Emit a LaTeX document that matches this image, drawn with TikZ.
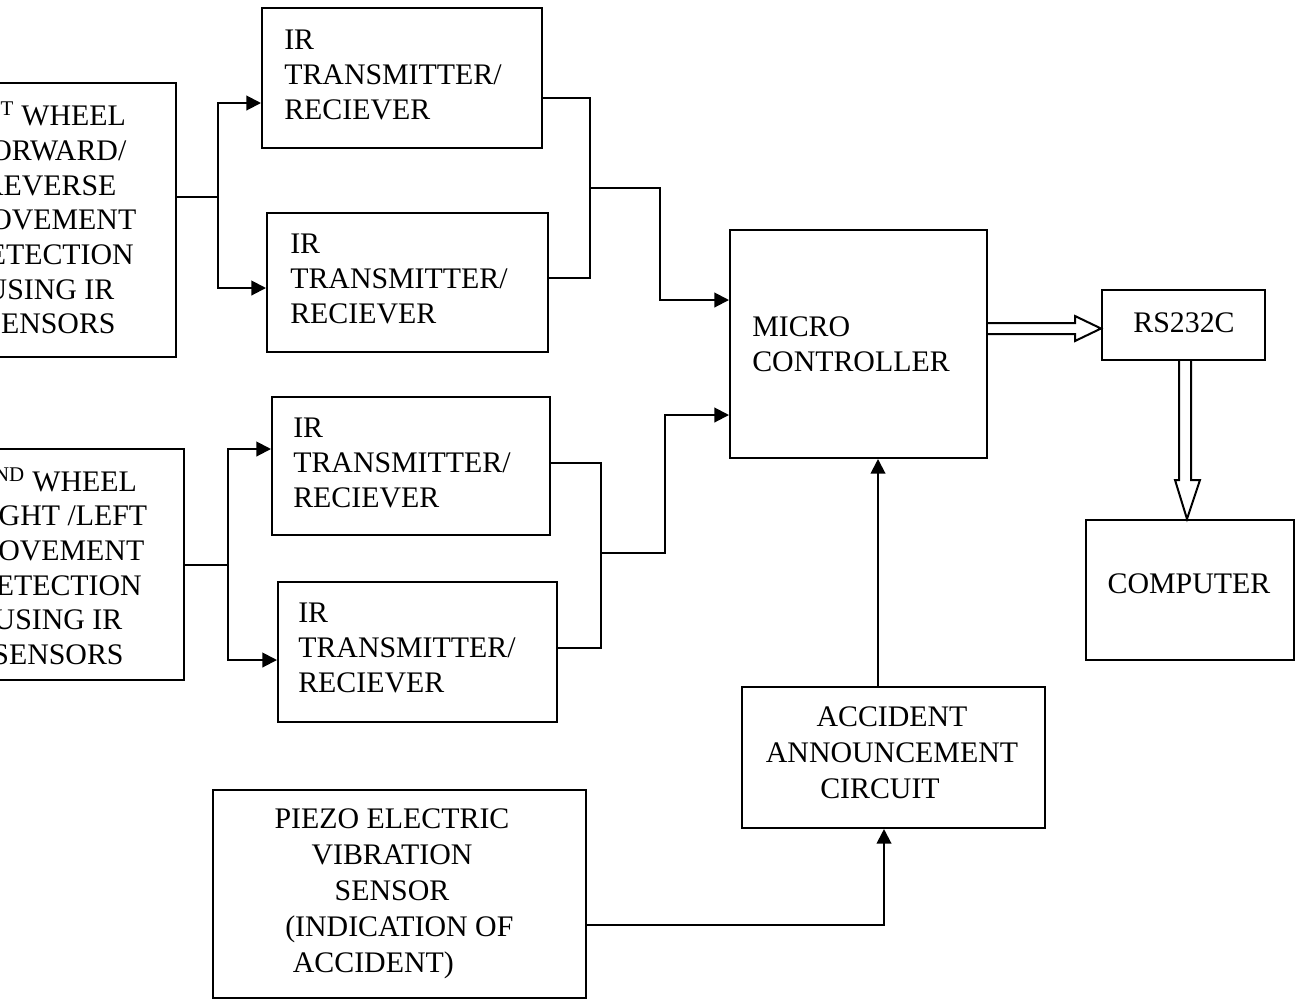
\documentclass[tikz,border=0pt]{standalone}
\usepackage{fontspec}
\setmainfont{Liberation Serif}
\usetikzlibrary{arrows.meta,fit,calc}
\begin{document}
\begin{tikzpicture}[x=0.75pt,y=-0.75pt,
  box/.style={draw, line width=1.5pt, inner sep=0pt},
  lbl/.style={inner sep=0pt, font=\fontsize{22.4}{26}\selectfont},
  lblw/.style={inner sep=0pt, font=\fontsize{22.4}{27}\selectfont},
  wire/.style={line width=1.5pt},
  arr/.style={wire, -{Triangle[length=11pt,width=11pt]}},
  hollow/.style={line width=1.5pt, line join=miter}]
\useasboundingbox (0,0) rectangle (1305,1001);
\clip (0,0) rectangle (1305,1001);

% left sensor boxes (cut by the picture's left edge, as in the reference)
\node[box, fit={(-76,83) (176,357)}] (w1) {};
\node[lbl, align=center] (w1t) at (50,218) {1\textsuperscript{ST} WHEEL\\FORWARD/\\REVERSE\hspace*{4pt}\\MOVEMENT\\DETECTION\\USING IR\\SENSORS};
\node[box, fit={(-68,449) (184,680)}] (w2) {};
\node[lbl, align=center] (w2t) at (58,566) {2\textsuperscript{ND} WHEEL\\RIGHT /LEFT\\MOVEMENT\\DETECTION\\USING IR\\SENSORS};

% IR boxes
\node[box, fit={(262,8) (542,148)}] (ir1) {};
\node[lbl, align=left, anchor=west] (ir1t) at (284,75) {IR\\TRANSMITTER/\\RECIEVER};
\node[box, fit={(267,213) (548,352)}] (ir2) {};
\node[lbl, align=left, anchor=west] (ir2t) at (290,279) {IR\\TRANSMITTER/\\RECIEVER};
\node[box, fit={(272,397) (550,535)}] (ir3) {};
\node[lbl, align=left, anchor=west] (ir3t) at (293,463) {IR\\TRANSMITTER/\\RECIEVER};
\node[box, fit={(278,582) (557,722)}] (ir4) {};
\node[lbl, align=left, anchor=west] (ir4t) at (298,648) {IR\\TRANSMITTER/\\RECIEVER};

% micro controller
\node[box, fit={(730,230) (987,458)}] (mc) {};
\node[lbl, align=left, anchor=west] (mct) at (752,344) {MICRO\\CONTROLLER};

% RS232C and computer
\node[box, fit={(1102,290) (1265,360)}] (rs) {};
\node[lbl] (rst) at (1184,323) {RS232C};
\node[box, fit={(1086,520) (1294,660)}] (comp) {};
\node[lbl] (compt) at (1189,584) {COMPUTER};

% accident announcement
\node[box, fit={(742,687) (1045,828)}] (acc) {};
\node[lblw, align=center] (acct) at (892,753) {ACCIDENT\\ANNOUNCEMENT\\CIRCUIT\hspace*{18pt}};

% piezo sensor
\node[box, fit={(213,790) (586,998)}] (pz) {};
\node[lblw, align=center] (pzt) at (392,894) {PIEZO ELECTRIC\\VIBRATION\hspace*{6pt}\\SENSOR\hspace*{10pt}\\\hspace*{11pt}(INDICATION OF\\ACCIDENT)\hspace*{28pt}};

% connectors: sensors to IR
\coordinate (j1) at (218,197);
\draw[wire] (w1.east |- j1) -- (j1);
\draw[arr] (j1) |- (ir1.west |- 0,103);
\draw[arr] (j1) |- (ir2.west |- 0,288);
\coordinate (j2) at (228,565);
\draw[wire] (w2.east |- j2) -- (j2);
\draw[arr] (j2) |- (ir3.west |- 0,449);
\draw[arr] (j2) |- (ir4.west |- 0,660);

% IR to micro controller
\coordinate (k1) at (590,188);
\draw[wire] (ir1.east |- 0,98) -| (k1);
\draw[wire] (ir2.east |- 0,278) -| (k1);
\coordinate (m1) at (660,300);
\draw[arr] (k1) -| (m1) -- (mc.west |- m1);
\coordinate (k2) at (601,553);
\draw[wire] (ir3.east |- 0,463) -| (k2);
\draw[wire] (ir4.east |- 0,648) -| (k2);
\coordinate (m2) at (665,415);
\draw[arr] (k2) -| (m2) -- (mc.west |- m2);

% accident to micro controller
\draw[arr] (acc.north -| 878,0) -- (mc.south -| 878,0);
% piezo to accident
\coordinate (p1) at (884,925);
\draw[arr] (pz.east |- p1) -| (acc.south -| p1);

% hollow bus arrows
\draw[hollow] (mc.east |- 0,323) -- (1075,323) -- (1075,316) -- (rs.west |- 0,328.5) -- (1075,341) -- (1075,334) -- (mc.east |- 0,334);
\draw[hollow] (rs.south -| 1179,0) -- (1179,480) -- (1175,480) -- (comp.north -| 1187,0) -- (1200,480) -- (1191,480) -- (rs.south -| 1191,0);
\end{tikzpicture}
\end{document}
